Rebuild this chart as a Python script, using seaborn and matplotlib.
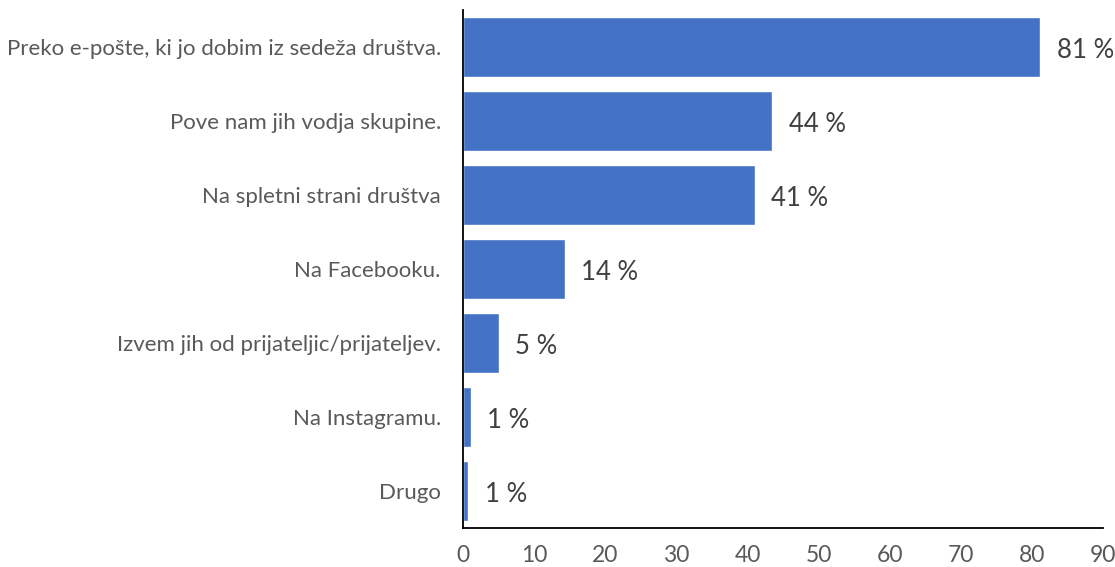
import matplotlib
matplotlib.use("Agg")
import matplotlib.pyplot as plt
import seaborn as sns
import pandas as pd

categories = [
    "Preko e-pošte, ki jo dobim iz sedeža društva.",
    "Pove nam jih vodja skupine.",
    "Na spletni strani društva",
    "Na Facebooku.",
    "Izvem jih od prijateljic/prijateljev.",
    "Na Instagramu.",
    "Drugo",
]
shares = [81.2, 43.5, 41.0, 14.3, 5.0, 1.1, 0.7]
x_ticks = [0, 10, 20, 30, 40, 50, 60, 70, 80, 90]

sns.set_style("white")
plt.rcParams["font.family"] = ["Lato", "DejaVu Sans"]

df = pd.DataFrame({"kanal": categories, "delez": shares})

fig = plt.figure(figsize=(11.15, 5.67), dpi=100)
ax = fig.add_axes([463 / 1115, 1 - 528 / 567, 640 / 1115, 518 / 567])

sns.barplot(data=df, x="delez", y="kanal", orient="h", color="#4472C4",
            saturation=1, width=0.8, ax=ax)

for i, v in enumerate(shares):
    ax.annotate(f"{round(v):d} %", xy=(v, i), xytext=(12, -2.5),
                textcoords="offset points", va="center", ha="left",
                fontsize=18.5, color="#404040", annotation_clip=False)

ax.set_xlim(0, 90)
ax.set_xticks(x_ticks)
ax.set_ylim(len(categories) - 0.5, -0.5)
ax.set_xlabel("")
ax.set_ylabel("")
ax.tick_params(axis="x", length=0, labelsize=16.5, labelcolor="#595959", pad=12)
ax.tick_params(axis="y", length=0, labelsize=16, labelcolor="#595959", pad=16)
for side in ("top", "right"):
    ax.spines[side].set_visible(False)
for side in ("left", "bottom"):
    ax.spines[side].set_color("black")
    ax.spines[side].set_linewidth(1.3)

fig.savefig("out.png", dpi=100)
